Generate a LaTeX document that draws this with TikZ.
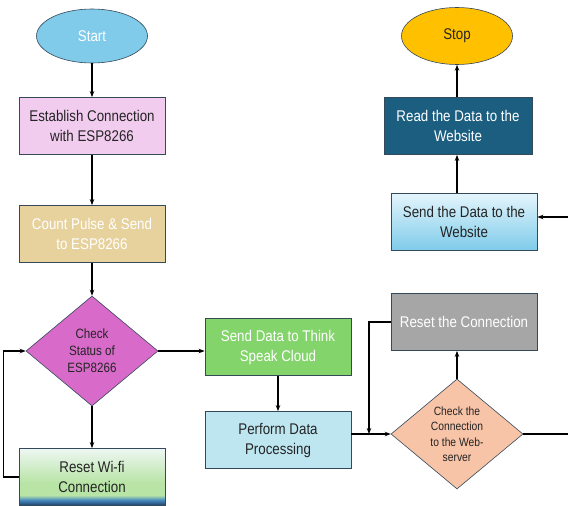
\documentclass[tikz,border=0pt]{standalone}
\usepackage{fontspec}
\setmainfont{Liberation Sans}[FakeStretch=0.86]
\usetikzlibrary{shapes.geometric,arrows.meta}
\definecolor{iotstart}{HTML}{80CAEA}
\definecolor{iotstop}{HTML}{FFC000}
\definecolor{iotpink}{HTML}{F2CCEF}
\definecolor{iotpapyrus}{HTML}{E7D29E}
\definecolor{iotcheck}{HTML}{D86BC9}
\definecolor{iotgreen}{HTML}{84D46C}
\definecolor{iotwater}{HTML}{BEE6F1}
\definecolor{iotgray}{HTML}{A6A6A6}
\definecolor{iotpeach}{HTML}{F8C4A7}
\definecolor{iotnavy}{HTML}{1B5E80}
\definecolor{iotskytop}{HTML}{E4F5FC}
\definecolor{iotskybot}{HTML}{7ECBEA}
\definecolor{iotedge}{HTML}{34495A}
\definecolor{iottext}{HTML}{242424}
\definecolor{wifideep}{HTML}{1B3F6B}
\definecolor{wifiblue}{HTML}{4A8CC0}
\definecolor{wifigreen}{HTML}{B8E4A6}
\definecolor{wifilight}{HTML}{EEF7F3}
\pgfdeclareverticalshading{wifishade}{100bp}{color(0bp)=(wifideep); color(25bp)=(wifideep);
  color(30bp)=(wifiblue); color(34bp)=(wifigreen); color(45bp)=(wifigreen);
  color(75bp)=(wifilight); color(100bp)=(wifilight)}

\begin{document}
\begin{tikzpicture}[x=1pt,y=-1pt,
    box/.style={draw=iotedge, line width=0.8pt, minimum width=146pt, minimum height=57pt,
      inner sep=2pt, align=center, text=iottext, font=\fontsize{15.5}{20}\selectfont},
    term/.style={ellipse, draw=iotedge, line width=0.6pt, minimum width=111pt,
      minimum height=54pt, font=\fontsize{15.5}{20}\selectfont},
    decide/.style={diamond, draw=iotedge, line width=0.6pt, minimum width=132pt,
      minimum height=110pt, inner sep=0pt, align=center, text=iottext},
    arrow/.style={-{Stealth[length=6pt,width=4.5pt]}, line width=1.2pt},
    link/.style={line width=1.2pt}]
  \useasboundingbox (0,0) rectangle (568,506);

  % Left column
  \node[term, fill=iotstart, text=white] (start) at (92,36) {Start};
  \node[box, fill=iotpink] (establish) at (92,126) {Establish Connection\\with ESP8266};
  \node[box, fill=iotpapyrus, text=white] (count) at (92,234) {Count Pulse \& Send\\to ESP8266};
  \node[decide, fill=iotcheck, font=\fontsize{13.5}{17}\selectfont] (check) at (92,351)
    {Check\\Status of\\ESP8266};
  \node[box, shading=wifishade] (resetwifi) at (92,477) {Reset Wi-fi\\Connection};

  % Middle column
  \node[box, fill=iotgreen, text=white] (sendthink) at (278,347) {Send Data to Think\\Speak Cloud};
  \node[box, fill=iotwater] (perform) at (278,440) {Perform Data\\Processing};

  % Right column
  \node[box, fill=iotgray, text=white] (resetconn) at (464,322) {Reset the Connection};
  \node[decide, fill=iotpeach, font=\fontsize{12}{15.5}\selectfont] (checkweb) at (457,434)
    {Check the\\Connection\\to the Web-\\server};
  \node[term, fill=iotstop, text=iottext, minimum height=57pt] (stop) at (457,36) {Stop};
  \node[box, fill=iotnavy, text=white, minimum width=148pt] (readweb) at (458,126)
    {Read the Data to the\\Website};
  \node[box, top color=iotskytop, bottom color=iotskybot] (sendweb) at (464,222)
    {Send the Data to the\\Website};

  \coordinate (merge) at (369,434);
  \coordinate (webout) at (568,434);
  \coordinate (webin) at (568,217);

  % Connectors
  \draw[arrow] (start) -- (establish);
  \draw[arrow] (establish) -- (count);
  \draw[arrow] (count) -- (check);
  \draw[arrow] (check) -- (resetwifi);
  \draw[arrow] (resetwifi.west) -- ++(-15,0) |- (check.west);
  \draw[arrow] (check.east) -- (check.east -| sendthink.west);
  \draw[arrow] (sendthink) -- (perform);
  \draw[arrow] (checkweb.west -| perform.east) -- (checkweb.west);
  \draw[arrow] (resetconn.west) -| (merge);
  \draw[arrow] (checkweb.north) -- (checkweb.north |- resetconn.south);
  \draw[link] (checkweb.east) -- (webout);
  \draw[arrow] (webin) -- (webin -| sendweb.east);
  \draw[arrow] (stop.south |- sendweb.north) -- (stop.south |- readweb.south);
  \draw[arrow] (stop.south |- readweb.north) -- (stop.south);
\end{tikzpicture}
\end{document}
